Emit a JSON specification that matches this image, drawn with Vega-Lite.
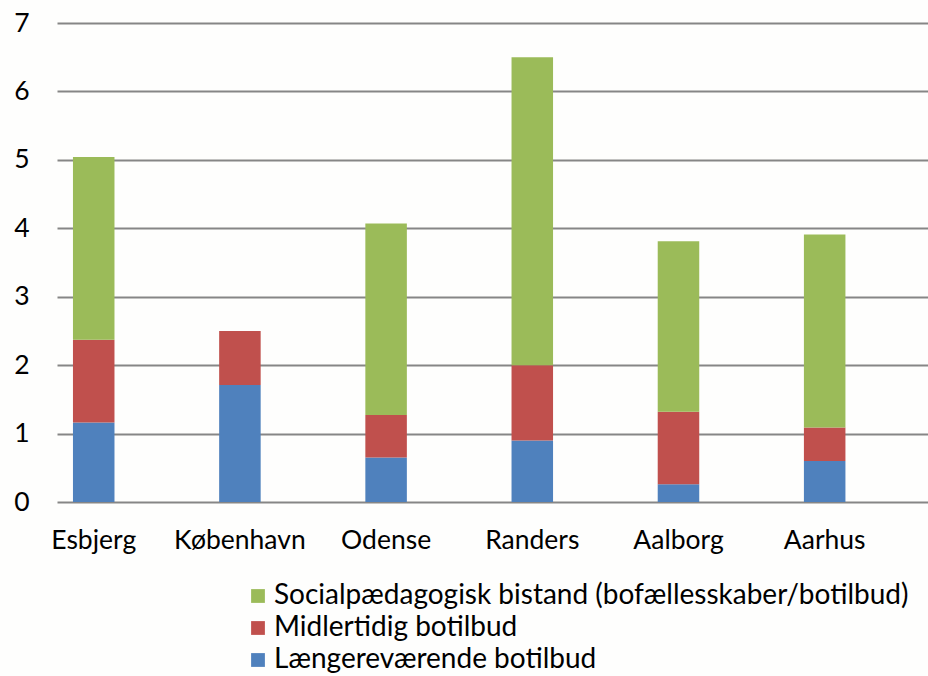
{
  "$schema": "https://vega.github.io/schema/vega-lite/v6.json",
  "width": 871,
  "height": 479,
  "autosize": {"type": "none"},
  "padding": {"left": 57, "top": 23, "right": 0, "bottom": 174},
  "background": "#fefefd",
  "data": {
    "values": [
      {"by": "Esbjerg", "type": "Længereværende botilbud", "v": 1.16},
      {"by": "Esbjerg", "type": "Midlertidig botilbud", "v": 1.21},
      {"by": "Esbjerg", "type": "Socialpædagogisk bistand (bofællesskaber/botilbud)", "v": 2.67},
      {"by": "København", "type": "Længereværende botilbud", "v": 1.71},
      {"by": "København", "type": "Midlertidig botilbud", "v": 0.79},
      {"by": "København", "type": "Socialpædagogisk bistand (bofællesskaber/botilbud)", "v": 0},
      {"by": "Odense", "type": "Længereværende botilbud", "v": 0.65},
      {"by": "Odense", "type": "Midlertidig botilbud", "v": 0.62},
      {"by": "Odense", "type": "Socialpædagogisk bistand (bofællesskaber/botilbud)", "v": 2.8},
      {"by": "Randers", "type": "Længereværende botilbud", "v": 0.9},
      {"by": "Randers", "type": "Midlertidig botilbud", "v": 1.1},
      {"by": "Randers", "type": "Socialpædagogisk bistand (bofællesskaber/botilbud)", "v": 4.5},
      {"by": "Aalborg", "type": "Længereværende botilbud", "v": 0.26},
      {"by": "Aalborg", "type": "Midlertidig botilbud", "v": 1.06},
      {"by": "Aalborg", "type": "Socialpædagogisk bistand (bofællesskaber/botilbud)", "v": 2.49},
      {"by": "Aarhus", "type": "Længereværende botilbud", "v": 0.6},
      {"by": "Aarhus", "type": "Midlertidig botilbud", "v": 0.49},
      {"by": "Aarhus", "type": "Socialpædagogisk bistand (bofællesskaber/botilbud)", "v": 2.82}
    ]
  },
  "config": {
    "view": {"stroke": null},
    "font": "Lato"
  },
  "mark": {"type": "bar"},
  "encoding": {
    "x": {
      "field": "by",
      "type": "nominal",
      "sort": null,
      "scale": {"paddingInner": 0.716, "paddingOuter": 0.337, "align": 0.162},
      "axis": {
        "title": null,
        "labelAngle": 0,
        "domain": false,
        "ticks": false,
        "labelFontSize": 26.5,
        "labelColor": "#000000",
        "labelPadding": 25,
        "labelFont": "Lato"
      }
    },
    "y": {
      "field": "v",
      "type": "quantitative",
      "stack": "zero",
      "scale": {"domain": [0, 7], "nice": false},
      "axis": {
        "title": null,
        "values": [0, 1, 2, 3, 4, 5, 6, 7],
        "domain": false,
        "ticks": false,
        "grid": true,
        "gridColor": "#868686",
        "gridWidth": 2,
        "gridOpacity": 1,
        "labelFontSize": 26.5,
        "labelColor": "#000000",
        "labelPadding": 28,
        "labelFont": "Lato"
      }
    },
    "color": {
      "field": "type",
      "type": "nominal",
      "scale": {
        "domain": ["Socialpædagogisk bistand (bofællesskaber/botilbud)", "Midlertidig botilbud", "Længereværende botilbud"],
        "range": ["#9bbb59", "#c0504d", "#4f81bd"]
      },
      "legend": {
        "title": null,
        "orient": "none",
        "legendX": 187,
        "legendY": 559,
        "symbolType": "square",
        "symbolSize": 190,
        "symbolStrokeWidth": 0,
        "labelFontSize": 28,
        "labelColor": "#000000",
        "labelFont": "Lato",
        "labelOffset": 2,
        "rowPadding": 4,
        "labelLimit": 800
      }
    },
    "order": {"field": "type", "sort": "ascending"}
  }
}
